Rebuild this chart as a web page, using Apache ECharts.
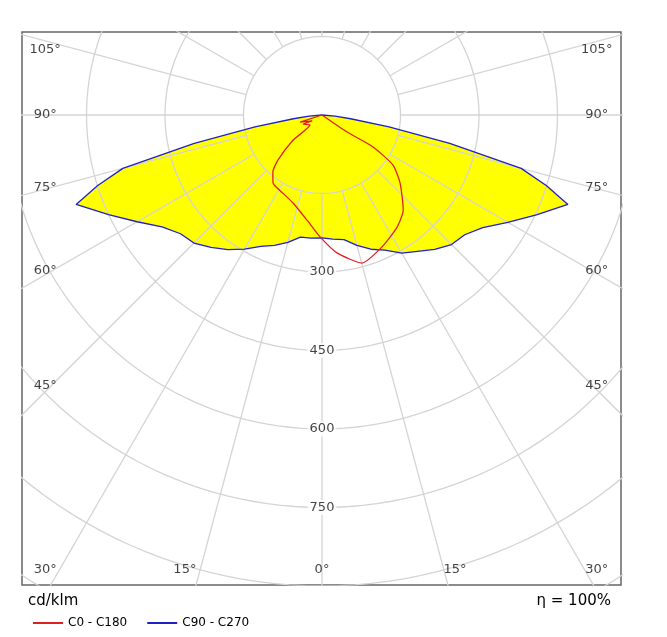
<!DOCTYPE html>
<html>
<head>
<meta charset="utf-8">
<script src="https://cdn.jsdelivr.net/npm/echarts@6/dist/echarts.min.js"></script>
<style>html,body{margin:0;background:#fff}#chart{width:667px;height:637px}</style>
</head>
<body>
<div id="chart"></div>
<script>
// C90 - C270: angle (deg from nadir) -> cd/klm
const c90Angles = [0, 5, 10, 15, 20, 25, 30, 35, 40, 45, 50, 55, 60, 65, 70, 72.5, 75, 77.5, 80, 82.5, 85, 90];
const c90Values = [235, 236, 237, 252, 265, 277, 296, 314, 330, 346, 353, 373, 408, 450, 500, 450, 394, 250, 130, 55, 25, 0];
const c270Values = [235, 238, 242, 258, 273, 285, 305, 318, 335, 350, 356, 375, 410, 452, 500, 450, 394, 250, 130, 55, 25, 0];

// C0 - C180: path order, negative angles = C180 side
const c0Angles = [-90, -72, -59, -64, -50, -49, -44.4, -40.7, -35.8, -26.6, -18.2, -8.1, -0.9, 6.2, 15.1, 24.4, 33.8, 40.5, 48.9, 54.8, 57.9, 55.8, 90];
const c0Values = [0, 44, 22, 40, 30, 73, 120, 144, 160, 167, 177, 203, 233, 265, 293, 277, 258, 239, 198, 166, 115, 58, 0];

const ringValues = [150, 300, 450, 600, 750, 900, 1050];
const ringLabels = ['300', '450', '600', '750'];
const sideAngleLabels = ['105°', '90°', '75°', '60°', '45°'];
const bottomAngleLabels = ['30°', '15°', '0°', '15°', '30°'];

const toXY = (a, r) => [r * Math.sin(a * Math.PI / 180), -r * Math.cos(a * Math.PI / 180)];

const c90Pts = c90Angles.map((a, i) => toXY(-a, c90Values[i]));
const c270Pts = c90Angles.map((a, i) => toXY(a, c270Values[i]));
const bluePts = c90Pts.slice().reverse().concat(c270Pts);
const redPts = c0Angles.map((a, i) => toXY(a, c0Values[i]));

const gridSeries = [];
ringValues.forEach(r => {
  const pts = [];
  for (let a = 0; a <= 360; a += 2) pts.push(toXY(a, r));
  gridSeries.push({type: 'line', data: pts, showSymbol: false, silent: true, z: 2,
    lineStyle: {color: '#d4d4d4', width: 1.3}});
});
for (let a = 0; a < 360; a += 15) {
  gridSeries.push({type: 'line', data: [toXY(a, 150), toXY(a, 1200)], showSymbol: false, silent: true, z: 2,
    lineStyle: {color: '#d4d4d4', width: 1.3}});
}

const k = 0.5233;
const sideY = [124, 0, -138, -298, -518];
const bottomX = [-529, -262, 0, 254, 525];
const labelPts = [];
sideAngleLabels.forEach((t, i) => {
  labelPts.push({value: [-529, sideY[i]], name: t});
  labelPts.push({value: [525, sideY[i]], name: t});
});
bottomAngleLabels.forEach((t, i) => labelPts.push({value: [bottomX[i], -869], name: t}));
ringLabels.forEach(t => labelPts.push({value: [0, -Number(t)], name: t,
  label: {backgroundColor: '#fff', padding: [1, 2]}}));

const chart = echarts.init(document.getElementById('chart'));
chart.setOption({
  animation: false,
  textStyle: {fontFamily: 'DejaVu Sans'},
  grid: {left: 22, top: 32, right: 46, bottom: 52, show: true, borderColor: '#666', borderWidth: 1.5, backgroundColor: '#fff'},
  xAxis: {type: 'value', min: -300 / k, max: 299 / k, show: false},
  yAxis: {type: 'value', min: -470 / k, max: 83 / k, show: false},
  legend: {
    left: 28, top: 612, itemGap: 20, itemWidth: 30, itemHeight: 2, icon: 'rect',
    textStyle: {fontSize: 12, color: '#000', fontFamily: 'DejaVu Sans'},
    data: ['C0 - C180', 'C90 - C270']
  },
  graphic: [
    {type: 'text', left: 28, top: 594, style: {text: 'cd/klm', fontSize: 15, fill: '#000', fontFamily: 'DejaVu Sans'}},
    {type: 'text', right: 56, top: 594, style: {text: 'η = 100%', fontSize: 15, fill: '#000', fontFamily: 'DejaVu Sans'}}
  ],
  series: [
    {
      type: 'custom', z: 1, silent: true, data: [0], clip: true,
      renderItem: (params, api) => ({
        type: 'polygon',
        shape: {points: bluePts.map(p => api.coord(p))},
        style: {fill: '#ffff00'}
      })
    },
    ...gridSeries,
    {
      name: 'C90 - C270', type: 'line', data: bluePts, showSymbol: false, z: 4,
      color: '#2020c8', lineStyle: {color: '#2020c8', width: 1.3}
    },
    {
      name: 'C0 - C180', type: 'line', data: redPts, showSymbol: false, z: 5, smooth: 0.2,
      color: '#e02020', lineStyle: {color: '#e02020', width: 1.3}
    },
    {
      type: 'scatter', symbolSize: 0, silent: true, z: 6, data: labelPts,
      label: {show: true, position: 'inside', color: '#111', fontSize: 13, formatter: p => p.name},
      labelLayout: {hideOverlap: false}
    }
  ]
});
</script>
</body>
</html>
